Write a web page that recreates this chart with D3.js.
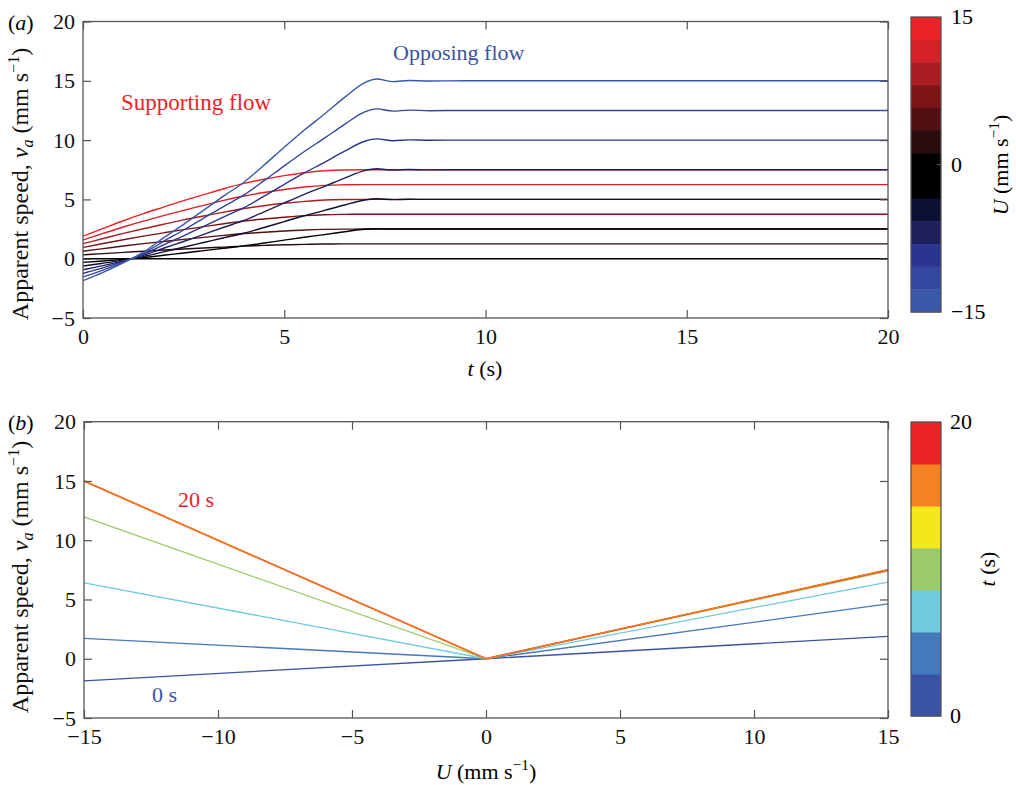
<!DOCTYPE html>
<html><head><meta charset="utf-8">
<script src="https://cdn.jsdelivr.net/npm/d3@7"></script>
<style>body{margin:0;background:#fff} svg{display:block} text{font-family:"Liberation Serif","Times New Roman",serif;}</style>
</head><body><svg id="c" width="1016" height="785"></svg>
<script>
// ---------- DATA ----------
const timeA = [0,0.5,1,1.5,2,2.5,3,3.5,4,4.5,5,5.5,6,6.5,7,7.3,7.7,8.1,8.6,9.5,12,16,20];
const uValues = [15, 12.5, 10, 7.5, 5, 2.5, 0, -2.5, -5, -7.5, -10, -12.5, -15];
const uColors = ["#ec2227","#d42128","#a81e22","#7d1416","#521012","#2a0c0e","#000000","#000000","#0d1030","#1f1f5c","#2a3590","#3347a0","#3a58a8"];
const speedU15   = [1.9,2.55,3.2,3.8,4.35,4.9,5.4,5.9,6.35,6.7,7.0,7.25,7.42,7.48,7.5,7.5,7.5,7.5,7.5,7.5,7.5,7.5,7.5];
const speedU12_5 = [1.58,2.13,2.67,3.17,3.63,4.08,4.5,4.92,5.29,5.58,5.83,6.04,6.18,6.23,6.25,6.25,6.25,6.25,6.25,6.25,6.25,6.25,6.25];
const speedU10   = [1.27,1.7,2.13,2.53,2.9,3.27,3.6,3.93,4.23,4.47,4.67,4.83,4.95,4.99,5,5,5,5,5,5,5,5,5];
const speedU7_5  = [0.95,1.28,1.6,1.9,2.18,2.45,2.7,2.95,3.18,3.35,3.5,3.63,3.71,3.74,3.75,3.75,3.75,3.75,3.75,3.75,3.75,3.75,3.75];
const speedU5    = [0.63,0.85,1.07,1.27,1.45,1.63,1.8,1.97,2.12,2.23,2.33,2.42,2.47,2.49,2.5,2.5,2.5,2.5,2.5,2.5,2.5,2.5,2.5];
const speedU2_5  = [0.32,0.43,0.53,0.63,0.73,0.82,0.9,0.98,1.06,1.12,1.17,1.21,1.24,1.25,1.25,1.25,1.25,1.25,1.25,1.25,1.25,1.25,1.25];
const speedU0    = [0,0,0,0,0,0,0,0,0,0,0,0,0,0,0,0,0,0,0,0,0,0,0];
const speedUm2_5 = [-0.31,-0.19,-0.06,0.09,0.29,0.48,0.68,0.88,1.08,1.32,1.57,1.81,2.03,2.27,2.48,2.52,2.5,2.5,2.5,2.5,2.5,2.5,2.5];
const speedUm5   = [-0.62,-0.38,-0.12,0.18,0.58,0.97,1.37,1.77,2.15,2.63,3.13,3.62,4.07,4.53,4.95,5.05,4.98,5.01,5.0,5,5,5,5];
const speedUm7_5 = [-0.93,-0.58,-0.18,0.28,0.88,1.45,2.05,2.65,3.23,3.95,4.7,5.43,6.1,6.8,7.43,7.58,7.47,7.52,7.49,7.5,7.5,7.5,7.5];
const speedUm10  = [-1.23,-0.77,-0.23,0.37,1.17,1.93,2.73,3.53,4.3,5.27,6.27,7.23,8.13,9.07,9.9,10.1,9.95,10.02,9.99,10,10,10,10];
const speedUm12_5= [-1.54,-0.96,-0.29,0.46,1.46,2.42,3.42,4.42,5.38,6.58,7.83,9.04,10.17,11.33,12.38,12.63,12.44,12.53,12.48,12.5,12.5,12.5,12.5];
const speedUm15  = [-1.85,-1.15,-0.35,0.55,1.75,2.9,4.1,5.3,6.45,7.9,9.4,10.85,12.2,13.6,14.85,15.15,14.93,15.03,14.98,15.0,15.0,15.0,15.0];
const speedsA = [speedU15,speedU12_5,speedU10,speedU7_5,speedU5,speedU2_5,speedU0,speedUm2_5,speedUm5,speedUm7_5,speedUm10,speedUm12_5,speedUm15];

const uB = [-15, 0, 15];
const tColors = ["#3a53a4","#4479bb","#6dcbdc","#9bca6a","#f4e71b","#f58220","#ed2224"];
const speedT0  = [-1.86, 0, 1.89];
const speedT2  = [1.72, 0, 4.63];
const speedT4  = [6.41, 0, 6.47];
const speedT6  = [11.97, 0, 7.4];
const speedT10 = [15.0, 0, 7.5];
const speedT15 = [15.0, 0, 7.52];
const speedT20 = [15.0, 0, 7.5];
const seriesB = [
  {vals: speedT0, color: tColors[0], w: 1.3},
  {vals: speedT2, color: tColors[1], w: 1.3},
  {vals: speedT4, color: tColors[2], w: 1.3},
  {vals: speedT6, color: tColors[3], w: 1.3},
  {vals: speedT10, color: tColors[4], w: 1.3},
  {vals: speedT20, color: tColors[6], w: 1.6},
  {vals: speedT15, color: tColors[5], w: 1.3}
];
const yTicks = [-5,0,5,10,15,20];
const xTicksA = [0,5,10,15,20];
const xTicksB = [-15,-10,-5,0,5,10,15];

// ---------- DRAW ----------
const svg = d3.select("#c");
const AX = "#555";
const FS = 22;

function frame(x, y, xt, pad) {
  const [y0, y1] = y.range(), [x0, x1] = x.range();
  const g = svg.append("g");
  const style = s => s.attr("font-size", FS).attr("font-family", '"Liberation Serif",serif')
     .call(a => a.select(".domain").remove())
     .call(a => a.selectAll(".tick line").attr("stroke", AX).attr("stroke-width", 1.2))
     .call(a => a.selectAll(".tick text").attr("fill", "#111"));
  g.append("g").attr("transform", `translate(0,${y0})`)
    .call(d3.axisBottom(x).tickValues(xt).tickSize(-8).tickPadding(pad).tickFormat(d3.format("d"))).call(style);
  g.append("g").attr("transform", `translate(0,${y1})`)
    .call(d3.axisTop(x).tickValues(xt).tickSize(-8).tickFormat("")).call(style);
  g.append("g").attr("transform", `translate(${x0},0)`)
    .call(d3.axisLeft(y).tickValues(yTicks).tickSize(-8).tickPadding(8).tickFormat(d3.format("d"))).call(style);
  g.append("g").attr("transform", `translate(${x1},0)`)
    .call(d3.axisRight(y).tickValues(yTicks).tickSize(-8).tickFormat("")).call(style);
  g.append("rect").attr("x", x0).attr("y", y1).attr("width", x1 - x0).attr("height", y0 - y1)
    .attr("fill", "none").attr("stroke", AX).attr("stroke-width", 1.3);
}

function yLabel(x, y) {
  const t = svg.append("text").attr("transform", `translate(${x},${y}) rotate(-90)`)
    .attr("text-anchor", "middle").attr("font-size", 24).attr("fill", "#111");
  t.append("tspan").text("Apparent speed, ");
  t.append("tspan").attr("font-style", "italic").text("v");
  t.append("tspan").attr("font-style", "italic").attr("font-size", 16).attr("dy", 5).text("a");
  t.append("tspan").attr("dy", -5).text(" (mm s");
  t.append("tspan").attr("font-size", 16).attr("dy", -9).text("−1");
  t.append("tspan").attr("dy", 9).text(")");
}

function uLabel(t, fs) {
  t.append("tspan").attr("font-style", "italic").text("U");
  t.append("tspan").text(" (mm s");
  t.append("tspan").attr("font-size", fs * 0.7).attr("dy", -9).text("−1");
  t.append("tspan").attr("dy", 9).text(")");
}

// Panel (a)
const xA = d3.scaleLinear().domain([0, 20]).range([83, 888]);
const yA = d3.scaleLinear().domain([-5, 20]).range([318, 21.5]);
svg.append("clipPath").attr("id", "clipA").append("rect")
  .attr("x", 83).attr("y", 21.5).attr("width", 805).attr("height", 296.5);
const lineA = d3.line().x((d, i) => xA(timeA[i])).y(d => yA(d)).curve(d3.curveMonotoneX);
svg.append("g").attr("clip-path", "url(#clipA)").selectAll("path").data(speedsA).join("path")
  .attr("d", lineA).attr("fill", "none").attr("stroke", (d, i) => uColors[i]).attr("stroke-width", 1.4);
frame(xA, yA, xTicksA, 10);
yLabel(28, 184);
svg.append("text").attr("x", 8).attr("y", 30).attr("font-size", FS).html('(<tspan font-style="italic">a</tspan>)');
svg.append("text").attr("x", 485).attr("y", 376).attr("text-anchor", "middle").attr("font-size", FS)
  .html('<tspan font-style="italic">t</tspan> (s)');
svg.append("text").attr("x", 121).attr("y", 110).attr("font-size", 23).attr("fill", "#ec2227").text("Supporting flow");
svg.append("text").attr("x", 393).attr("y", 60).attr("font-size", FS).attr("fill", "#3a53a4").text("Opposing flow");

// Colorbar (a)
const cbA = d3.scaleLinear().domain([-15, 15]).range([312, 17]);
const nA = uColors.length, stepA = 30 / nA;
svg.append("g").selectAll("rect").data(uColors).join("rect")
  .attr("x", 911).attr("width", 30)
  .attr("y", (d, i) => cbA(15 - i * stepA))
  .attr("height", (d, i) => cbA(15 - (i + 1) * stepA) - cbA(15 - i * stepA) + 0.5)
  .attr("fill", d => d);
svg.append("rect").attr("x", 911).attr("y", 17).attr("width", 30).attr("height", 295)
  .attr("fill", "none").attr("stroke", AX).attr("stroke-width", 1.3);
svg.append("line").attr("x1", 937).attr("x2", 941).attr("y1", cbA(0)).attr("y2", cbA(0)).attr("stroke", AX);
svg.append("g").selectAll("text").data([-15, 0, 15]).join("text")
  .attr("x", 951).attr("y", d => cbA(d) + 7).attr("font-size", FS).text(d3.format("d"));
uLabel(svg.append("text").attr("transform", `translate(1008,165) rotate(-90)`).attr("text-anchor", "middle").attr("font-size", FS), FS);

// Panel (b)
const xB = d3.scaleLinear().domain([-15, 15]).range([84, 888]);
const yB = d3.scaleLinear().domain([-5, 20]).range([718, 421.7]);
const lineB = d3.line().x((d, i) => xB(uB[i])).y(d => yB(d));
svg.append("g").selectAll("path").data(seriesB).join("path")
  .attr("d", d => lineB(d.vals)).attr("fill", "none").attr("stroke", d => d.color).attr("stroke-width", d => d.w);
frame(xB, yB, xTicksB, 10);
yLabel(28, 577);
svg.append("text").attr("x", 8).attr("y", 430).attr("font-size", FS).html('(<tspan font-style="italic">b</tspan>)');
uLabel(svg.append("text").attr("x", 486).attr("y", 779).attr("text-anchor", "middle").attr("font-size", FS), FS);
svg.append("text").attr("x", 178).attr("y", 507).attr("font-size", FS).attr("fill", "#ec2227").text("20 s");
svg.append("text").attr("x", 152).attr("y", 702).attr("font-size", FS).attr("fill", "#3a53a4").text("0 s");

// Colorbar (b)
const cbB = d3.scaleLinear().domain([0, 20]).range([716, 422]);
const nB = tColors.length, stepB = 20 / nB;
svg.append("g").selectAll("rect").data(tColors).join("rect")
  .attr("x", 911).attr("width", 30)
  .attr("y", (d, i) => cbB((i + 1) * stepB))
  .attr("height", (d, i) => cbB(i * stepB) - cbB((i + 1) * stepB) + 0.5)
  .attr("fill", d => d);
svg.append("rect").attr("x", 911).attr("y", 422).attr("width", 30).attr("height", 294)
  .attr("fill", "none").attr("stroke", AX).attr("stroke-width", 1.3);
svg.append("g").selectAll("text").data([0, 20]).join("text")
  .attr("x", 950).attr("y", d => cbB(d) + 7).attr("font-size", FS).text(d3.format("d"));
svg.append("text").attr("transform", `translate(995,569) rotate(-90)`).attr("text-anchor", "middle").attr("font-size", FS)
  .html('<tspan font-style="italic">t</tspan> (s)');
</script></body></html>
